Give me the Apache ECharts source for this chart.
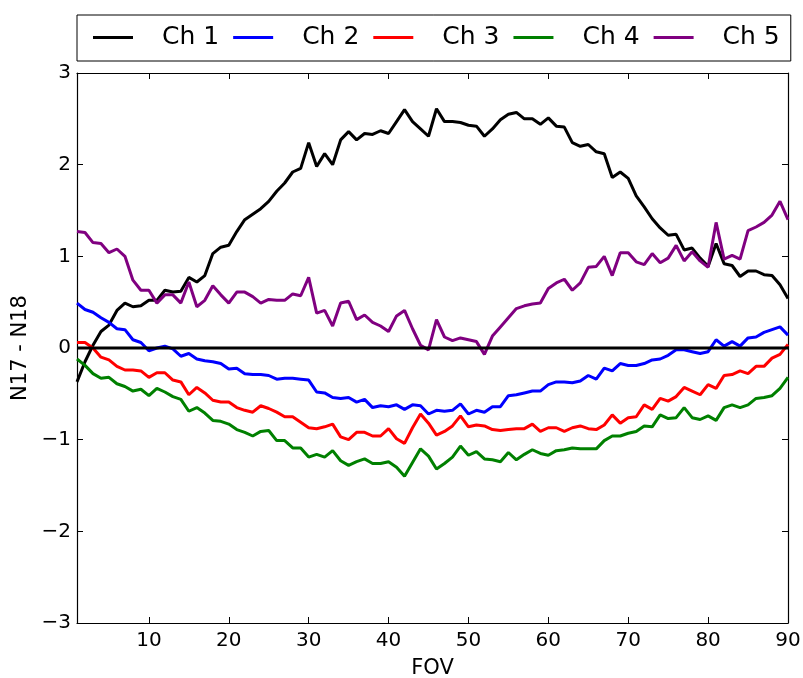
<!DOCTYPE html>
<html>
<head>
<meta charset="utf-8">
<script src="https://cdn.jsdelivr.net/npm/echarts@6/dist/echarts.min.js"></script>
<style>html,body{margin:0;padding:0;background:#fff}#c{width:803px;height:678px}</style>
</head>
<body>
<div id="c"></div>
<script>
const fov = [1,2,3,4,5,6,7,8,9,10,11,12,13,14,15,16,17,18,19,20,21,22,23,24,25,26,27,28,29,30,
31,32,33,34,35,36,37,38,39,40,41,42,43,44,45,46,47,48,49,50,51,52,53,54,55,56,57,58,59,60,
61,62,63,64,65,66,67,68,69,70,71,72,73,74,75,76,77,78,79,80,81,82,83,84,85,86,87,88,89,90];
const xTicks = [10,20,30,40,50,60,70,80,90];
const seriesNames = ['Ch 1','Ch 2','Ch 3','Ch 4','Ch 5'];
const ch1 = [-0.37,-0.15,0.03,0.18,0.25,0.41,0.49,0.45,0.46,0.52,
0.52,0.63,0.61,0.62,0.77,0.72,0.79,1.03,1.10,1.12,
1.27,1.40,1.46,1.52,1.60,1.71,1.80,1.92,1.96,2.24,
1.98,2.12,2.00,2.27,2.36,2.27,2.34,2.33,2.37,2.34,
2.47,2.60,2.47,2.39,2.31,2.61,2.47,2.47,2.46,2.43,
2.42,2.31,2.39,2.49,2.55,2.57,2.50,2.50,2.44,2.51,
2.42,2.41,2.24,2.20,2.22,2.14,2.12,1.86,1.92,1.85,
1.66,1.54,1.41,1.31,1.23,1.24,1.07,1.09,0.98,0.89,
1.14,0.92,0.90,0.78,0.84,0.84,0.80,0.79,0.69,0.54];
const ch2 = [0.49,0.42,0.39,0.33,0.28,0.21,0.20,0.09,0.06,-0.03,
0.00,0.02,-0.01,-0.09,-0.06,-0.12,-0.14,-0.15,-0.17,-0.23,
-0.22,-0.28,-0.29,-0.29,-0.30,-0.34,-0.33,-0.33,-0.34,-0.35,
-0.48,-0.49,-0.54,-0.55,-0.54,-0.59,-0.56,-0.65,-0.63,-0.64,
-0.62,-0.67,-0.62,-0.63,-0.72,-0.68,-0.69,-0.68,-0.61,-0.72,
-0.68,-0.70,-0.64,-0.64,-0.52,-0.51,-0.49,-0.47,-0.47,-0.40,
-0.37,-0.37,-0.38,-0.36,-0.30,-0.34,-0.22,-0.25,-0.17,-0.19,
-0.19,-0.17,-0.13,-0.12,-0.08,-0.02,-0.02,-0.04,-0.06,-0.04,
0.09,0.02,0.07,0.02,0.11,0.12,0.17,0.20,0.23,0.14];
const ch3 = [0.06,0.06,0.00,-0.10,-0.13,-0.20,-0.24,-0.24,-0.25,-0.32,
-0.27,-0.27,-0.35,-0.37,-0.51,-0.43,-0.49,-0.57,-0.59,-0.59,
-0.65,-0.68,-0.70,-0.63,-0.66,-0.70,-0.75,-0.75,-0.81,-0.87,
-0.88,-0.86,-0.83,-0.97,-1.00,-0.92,-0.92,-0.96,-0.96,-0.88,
-0.99,-1.04,-0.87,-0.72,-0.82,-0.95,-0.91,-0.85,-0.74,-0.86,
-0.84,-0.85,-0.89,-0.90,-0.89,-0.88,-0.88,-0.83,-0.91,-0.87,
-0.87,-0.91,-0.87,-0.85,-0.88,-0.89,-0.84,-0.73,-0.82,-0.76,
-0.75,-0.62,-0.67,-0.55,-0.58,-0.53,-0.43,-0.47,-0.51,-0.40,
-0.44,-0.30,-0.29,-0.25,-0.28,-0.20,-0.20,-0.11,-0.07,0.04];
const ch4 = [-0.12,-0.19,-0.28,-0.33,-0.32,-0.39,-0.42,-0.47,-0.45,-0.52,
-0.44,-0.48,-0.53,-0.56,-0.69,-0.65,-0.71,-0.79,-0.80,-0.83,
-0.89,-0.92,-0.96,-0.91,-0.90,-1.01,-1.01,-1.09,-1.09,-1.19,
-1.16,-1.19,-1.12,-1.23,-1.28,-1.24,-1.21,-1.26,-1.26,-1.24,
-1.30,-1.40,-1.25,-1.10,-1.18,-1.32,-1.26,-1.19,-1.07,-1.17,
-1.13,-1.21,-1.22,-1.24,-1.14,-1.22,-1.16,-1.11,-1.15,-1.17,
-1.12,-1.11,-1.09,-1.10,-1.10,-1.10,-1.01,-0.96,-0.96,-0.93,
-0.91,-0.85,-0.86,-0.73,-0.77,-0.76,-0.65,-0.76,-0.78,-0.74,
-0.79,-0.65,-0.62,-0.65,-0.62,-0.55,-0.54,-0.52,-0.44,-0.32];
const ch5 = [1.27,1.26,1.15,1.14,1.04,1.08,1.00,0.74,0.63,0.63,
0.49,0.58,0.58,0.49,0.72,0.45,0.52,0.68,0.58,0.49,
0.61,0.61,0.56,0.49,0.53,0.52,0.52,0.59,0.57,0.77,
0.38,0.41,0.24,0.49,0.51,0.31,0.36,0.28,0.24,0.18,
0.35,0.41,0.21,0.03,-0.02,0.31,0.12,0.08,0.11,0.09,
0.07,-0.07,0.13,0.23,0.33,0.43,0.46,0.48,0.49,0.65,
0.71,0.75,0.63,0.71,0.88,0.89,1.00,0.79,1.04,1.04,
0.94,0.91,1.03,0.93,0.98,1.12,0.95,1.05,0.95,0.88,
1.37,0.97,1.01,0.97,1.28,1.32,1.37,1.45,1.60,1.40];
const zeroLineX = [1, 90];
const zeroLineY = [0, 0];
const colors = ['#000000','#0000ff','#ff0000','#008000','#800080'];
const allValues = [ch1, ch2, ch3, ch4, ch5];

const FONT = 'DejaVu Sans';
const fmtY = v => (v < 0 ? '\u2212' + Math.abs(v) : String(v));

const series = allValues.map((vals, i) => ({
  name: seriesNames[i],
  type: 'line',
  data: fov.map((x, k) => [x, vals[k]]),
  showSymbol: false,
  symbol: 'none',
  lineStyle: { width: 3, color: colors[i] },
  itemStyle: { color: colors[i] },
  z: 2 + i,
  animation: false
}));
series.push({
  name: 'zero',
  type: 'line',
  data: zeroLineX.map((x, k) => [x, zeroLineY[k]]),
  showSymbol: false,
  symbol: 'none',
  lineStyle: { width: 3, color: '#000' },
  z: 10,
  silent: true,
  animation: false
});

const tickCommon = { inside: true, length: 6, lineStyle: { color: '#000', width: 1 } };
const lineCommon = { show: true, onZero: false, lineStyle: { color: '#000', width: 1.2 } };

const option = {
  backgroundColor: '#fff',
  animation: false,
  grid: { left: 77, right: 15, top: 73, bottom: 55, containLabel: false, outerBoundsMode: 'none' },
  legend: {
    data: seriesNames,
    left: 77, top: 15,
    padding: [10, 11, 11, 16],
    borderColor: '#000', borderWidth: 1, borderRadius: 0,
    backgroundColor: '#fff',
    icon: 'rect', itemWidth: 40, itemHeight: 3, itemGap: 14,
    textStyle: { fontFamily: FONT, fontSize: 25, color: '#000', padding: [0, 0, 0, 24] }
  },
  xAxis: [{
    type: 'value', min: 1, max: 90, position: 'bottom',
    axisLine: lineCommon,
    axisTick: Object.assign({ customValues: xTicks }, tickCommon),
    axisLabel: { customValues: xTicks, fontFamily: FONT, fontSize: 20, color: '#000', margin: 8 },
    splitLine: { show: false },
    name: 'FOV', nameLocation: 'middle', nameGap: 35,
    nameTextStyle: { fontFamily: FONT, fontSize: 21, color: '#000' }
  }, {
    type: 'value', min: 1, max: 90, position: 'top',
    axisLine: lineCommon,
    axisTick: Object.assign({ customValues: xTicks }, tickCommon),
    axisLabel: { show: false },
    splitLine: { show: false }
  }],
  yAxis: [{
    type: 'value', min: -3, max: 3, interval: 1, position: 'left',
    axisLine: lineCommon,
    axisTick: tickCommon,
    axisLabel: { formatter: fmtY, fontFamily: FONT, fontSize: 20, color: '#000', margin: 6 },
    splitLine: { show: false },
    name: 'N17 - N18', nameLocation: 'middle', nameGap: 37, nameRotate: 90,
    nameTextStyle: { fontFamily: FONT, fontSize: 21, color: '#000' }
  }, {
    type: 'value', min: -3, max: 3, interval: 1, position: 'right',
    axisLine: lineCommon,
    axisTick: tickCommon,
    axisLabel: { show: false },
    splitLine: { show: false }
  }],
  series: series
};
const chart = echarts.init(document.getElementById('c'), null, { renderer: 'canvas' });
chart.setOption(option);
</script>
</body>
</html>
